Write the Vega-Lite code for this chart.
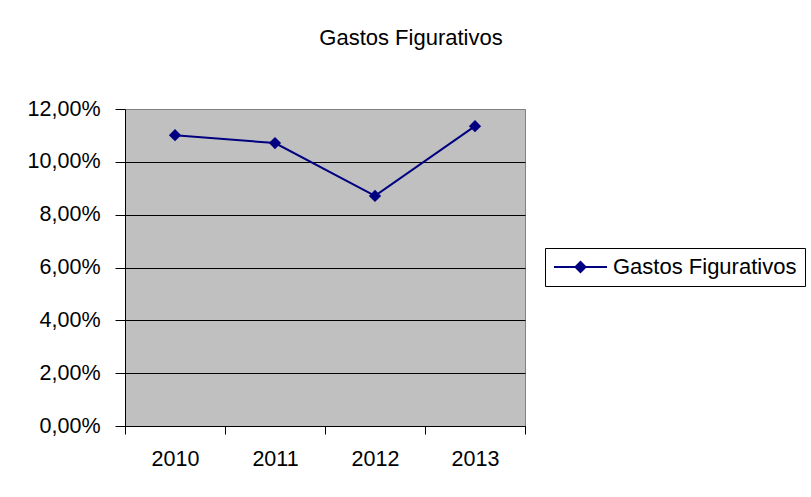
{
  "$schema": "https://vega.github.io/schema/vega-lite/v6.json",
  "autosize": "none",
  "width": 400,
  "height": 317,
  "padding": {"left": 125, "top": 109, "right": 286, "bottom": 71},
  "background": "white",
  "title": {
    "text": "Gastos Figurativos",
    "font": "Liberation Sans",
    "fontSize": 22,
    "fontWeight": "normal",
    "color": "black",
    "anchor": "middle",
    "frame": "group",
    "dx": 86,
    "offset": 48
  },
  "data": {
    "values": [
      {"ano": "2010", "valor": 0.1101, "serie": "Gastos Figurativos"},
      {"ano": "2011", "valor": 0.1071, "serie": "Gastos Figurativos"},
      {"ano": "2012", "valor": 0.0871, "serie": "Gastos Figurativos"},
      {"ano": "2013", "valor": 0.1135, "serie": "Gastos Figurativos"}
    ]
  },
  "mark": {
    "type": "line",
    "strokeWidth": 2,
    "point": {"shape": "diamond", "size": 150, "filled": true, "color": "#000080", "opacity": 1}
  },
  "encoding": {
    "x": {
      "field": "ano",
      "type": "ordinal",
      "bandPosition": 0.5,
      "scale": {"type": "band", "paddingInner": 0, "paddingOuter": 0},
      "axis": {
        "title": null,
        "labelAngle": 0,
        "tickBand": "extent",
        "tickSize": 8,
        "tickColor": "black",
        "domainColor": "black",
        "labelFont": "Liberation Sans",
        "labelFontSize": 21.5,
        "labelColor": "black",
        "labelPadding": 14,
        "grid": false
      }
    },
    "y": {
      "field": "valor",
      "type": "quantitative",
      "scale": {"domain": [0, 0.12], "nice": false},
      "axis": {
        "title": null,
        "values": [0, 0.02, 0.04, 0.06, 0.08, 0.1, 0.12],
        "labelExpr": "replace(format(datum.value, '.2%'), '.', ',')",
        "tickSize": 10,
        "tickColor": "black",
        "domainColor": "black",
        "labelFont": "Liberation Sans",
        "labelFontSize": 21.5,
        "labelColor": "black",
        "labelPadding": 15,
        "grid": true,
        "gridColor": {"condition": {"test": "datum.value >= 0.12", "value": "#808080"}, "value": "black"},
        "gridOpacity": 1,
        "gridWidth": 1
      }
    },
    "color": {
      "field": "serie",
      "type": "nominal",
      "scale": {"range": ["#000080"]},
      "legend": {
        "title": null,
        "orient": "none",
        "legendX": 420,
        "legendY": 139,
        "strokeColor": "black",
        "fillColor": "white",
        "padding": 8,
        "clipHeight": 22,
        "labelFont": "Liberation Sans",
        "labelFontSize": 22,
        "labelColor": "black",
        "labelOffset": 5,
        "labelLimit": 400,
        "symbolType": "M-1,0H1M0,-0.19L0.19,0L0,0.19L-0.19,0Z",
        "symbolSize": 2809,
        "symbolStrokeWidth": 2,
        "encode": {
          "symbols": {
            "update": {
              "fill": {"value": "#000080"},
              "stroke": {"value": "#000080"},
              "strokeWidth": {"value": 2},
              "opacity": {"value": 1}
            }
          }
        }
      }
    }
  },
  "config": {
    "view": {"fill": "#C0C0C0", "stroke": "#808080", "strokeWidth": 1}
  }
}
